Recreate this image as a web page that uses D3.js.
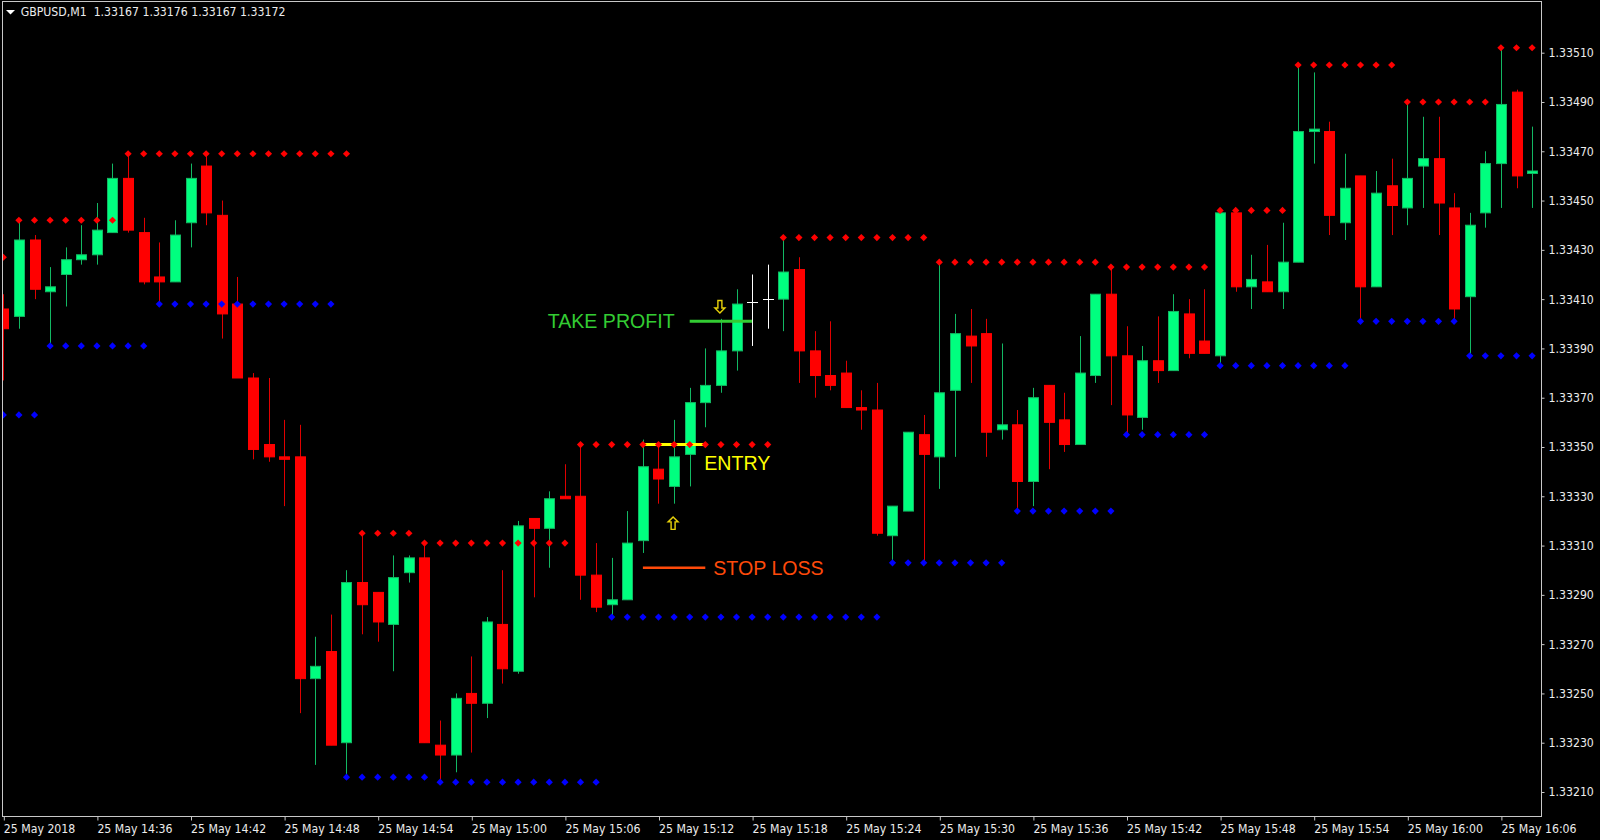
<!DOCTYPE html>
<html>
<head>
<meta charset="utf-8">
<script src="https://cdnjs.cloudflare.com/ajax/libs/d3/7.8.5/d3.min.js"></script>
<style>
  body { margin: 0; background: #000; }
  svg { display: block; background: #000; }
  .axis text { font-family: 'DejaVu Sans Condensed', 'Liberation Sans', sans-serif; font-size: 12.2px; fill: #ececec; }
  .axis line { stroke: #c8c8c8; }
  .note { font-family: 'Liberation Sans', Arial, sans-serif; font-size: 19.6px; }
</style>
</head>
<body>
<svg width="1600" height="840"></svg>
<script>
var svg = d3.select('svg');

var title = 'GBPUSD,M1  1.33167 1.33176 1.33167 1.33172';

// one bar per minute, 25 May 2018 14:30 -> 16:08
var opens = [1.33406, 1.33403, 1.33434, 1.33413, 1.33420, 1.33426, 1.33428, 1.33437, 1.33459, 1.33437,
  1.33419, 1.33417, 1.33441, 1.33464, 1.33444, 1.33408, 1.33378, 1.33351, 1.33346, 1.33346,
  1.33256, 1.33267, 1.33230, 1.33295, 1.33291, 1.33278, 1.33299, 1.33305, 1.33229, 1.33225,
  1.33250, 1.33246, 1.33278, 1.33259, 1.33321, 1.33317, 1.33330, 1.33330, 1.33298, 1.33286,
  1.33288, 1.33312, 1.33341, 1.33334, 1.33347, 1.33368, 1.33375, 1.33389, 1.33409, 1.33410,
  1.33410, 1.33422, 1.33389, 1.33379, 1.33380, 1.33366, 1.33365, 1.33314, 1.33324, 1.33355,
  1.33346, 1.33373, 1.33395, 1.33396, 1.33357, 1.33359, 1.33336, 1.33375, 1.33361, 1.33351,
  1.33379, 1.33412, 1.33387, 1.33362, 1.33385, 1.33381, 1.33404, 1.33393, 1.33387, 1.33445,
  1.33415, 1.33417, 1.33413, 1.33425, 1.33478, 1.33478, 1.33441, 1.33460, 1.33415, 1.33456,
  1.33447, 1.33464, 1.33467, 1.33447, 1.33411, 1.33445, 1.33465, 1.33494, 1.33461];

var highs = [1.33412, 1.33442, 1.33436, 1.33423, 1.33431, 1.33440, 1.33449, 1.33465, 1.33469, 1.33443,
  1.33433, 1.33442, 1.33465, 1.33469, 1.33450, 1.33419, 1.33380, 1.33378, 1.33361, 1.33359,
  1.33273, 1.33282, 1.33300, 1.33315, 1.33291, 1.33306, 1.33306, 1.33311, 1.33239, 1.33250,
  1.33265, 1.33281, 1.33300, 1.33320, 1.33321, 1.33332, 1.33343, 1.33351, 1.33311, 1.33305,
  1.33324, 1.33353, 1.33351, 1.33361, 1.33374, 1.33390, 1.33402, 1.33414, 1.33420, 1.33424,
  1.33435, 1.33427, 1.33397, 1.33401, 1.33385, 1.33373, 1.33376, 1.33326, 1.33356, 1.33363,
  1.33425, 1.33404, 1.33406, 1.33402, 1.33392, 1.33365, 1.33374, 1.33375, 1.33372, 1.33395,
  1.33412, 1.33423, 1.33399, 1.33391, 1.33403, 1.33412, 1.33410, 1.33414, 1.33446, 1.33445,
  1.33428, 1.33432, 1.33441, 1.33505, 1.33502, 1.33482, 1.33469, 1.33460, 1.33462, 1.33467,
  1.33490, 1.33484, 1.33484, 1.33453, 1.33445, 1.33470, 1.33512, 1.33495, 1.33480];

var lows = [1.33377, 1.33398, 1.33410, 1.33391, 1.33407, 1.33424, 1.33424, 1.33437, 1.33437, 1.33416,
  1.33408, 1.33417, 1.33431, 1.33440, 1.33394, 1.33378, 1.33345, 1.33344, 1.33326, 1.33242,
  1.33221, 1.33229, 1.33216, 1.33274, 1.33271, 1.33259, 1.33295, 1.33230, 1.33214, 1.33218,
  1.33226, 1.33240, 1.33254, 1.33258, 1.33289, 1.33301, 1.33329, 1.33288, 1.33283, 1.33281,
  1.33288, 1.33307, 1.33327, 1.33327, 1.33334, 1.33358, 1.33372, 1.33381, 1.33391, 1.33398,
  1.33397, 1.33376, 1.33370, 1.33373, 1.33366, 1.33357, 1.33314, 1.33303, 1.33324, 1.33303,
  1.33333, 1.33346, 1.33376, 1.33346, 1.33353, 1.33324, 1.33326, 1.33341, 1.33348, 1.33351,
  1.33376, 1.33367, 1.33355, 1.33357, 1.33376, 1.33381, 1.33386, 1.33388, 1.33383, 1.33413,
  1.33406, 1.33413, 1.33406, 1.33425, 1.33465, 1.33436, 1.33434, 1.33401, 1.33415, 1.33436,
  1.33440, 1.33447, 1.33436, 1.33401, 1.33387, 1.33439, 1.33447, 1.33455, 1.33447];

var closes = [1.33398, 1.33434, 1.33414, 1.33415, 1.33426, 1.33428, 1.33438, 1.33459, 1.33438, 1.33417,
  1.33417, 1.33436, 1.33459, 1.33445, 1.33404, 1.33378, 1.33349, 1.33346, 1.33345, 1.33256,
  1.33261, 1.33229, 1.33295, 1.33286, 1.33279, 1.33297, 1.33305, 1.33230, 1.33225, 1.33248,
  1.33246, 1.33279, 1.33260, 1.33318, 1.33317, 1.33329, 1.33329, 1.33298, 1.33285, 1.33288,
  1.33311, 1.33342, 1.33337, 1.33346, 1.33368, 1.33375, 1.33389, 1.33408, 1.33409, 1.33410,
  1.33421, 1.33389, 1.33379, 1.33375, 1.33366, 1.33365, 1.33315, 1.33326, 1.33356, 1.33347,
  1.33372, 1.33396, 1.33391, 1.33356, 1.33359, 1.33336, 1.33370, 1.33360, 1.33351, 1.33380,
  1.33412, 1.33387, 1.33363, 1.33385, 1.33381, 1.33405, 1.33388, 1.33388, 1.33445, 1.33415,
  1.33418, 1.33413, 1.33425, 1.33478, 1.33479, 1.33444, 1.33455, 1.33415, 1.33453, 1.33448,
  1.33459, 1.33467, 1.33449, 1.33406, 1.33440, 1.33465, 1.33489, 1.33460, 1.33462];

// dotted levels: [first bar, last bar, price]
var resistance = [[0, 0, 1.33427], [1, 7, 1.33442], [8, 22, 1.33469], [23, 26, 1.33315],
  [27, 36, 1.33311], [37, 49, 1.33351], [50, 59, 1.33435], [60, 70, 1.33425], [71, 77, 1.33423],
  [78, 82, 1.33446], [83, 89, 1.33505], [90, 95, 1.33490], [96, 98, 1.33512]];
var support = [[0, 2, 1.33363], [3, 9, 1.33391], [10, 21, 1.33408], [22, 27, 1.33216],
  [28, 38, 1.33214], [39, 56, 1.33281], [57, 64, 1.33303], [65, 71, 1.33324], [72, 77, 1.33355],
  [78, 86, 1.33383], [87, 93, 1.33401], [94, 98, 1.33387]];

var tradeLabels = ['TAKE PROFIT', 'ENTRY', 'STOP LOSS'];
var tradeFrom = [44, 41, 41];
var tradeTo = [48, 45, 45];
var tradePrices = [1.33401, 1.33351, 1.33301];

var arrowBars = [46, 43];
var arrowPrices = [1.33407, 1.33319];
var arrowDirs = ['down', 'up'];

var yTicks = [1.33210, 1.33230, 1.33250, 1.33270, 1.33290, 1.33310, 1.33330, 1.33350,
  1.33370, 1.33390, 1.33410, 1.33430, 1.33450, 1.33470, 1.33490, 1.33510];
var xTickBars = [0, 6, 12, 18, 24, 30, 36, 42, 48, 54, 60, 66, 72, 78, 84, 90, 96];
var xTickLabels = ['25 May 2018', '25 May 14:36', '25 May 14:42', '25 May 14:48', '25 May 14:54',
  '25 May 15:00', '25 May 15:06', '25 May 15:12', '25 May 15:18', '25 May 15:24', '25 May 15:30',
  '25 May 15:36', '25 May 15:42', '25 May 15:48', '25 May 15:54', '25 May 16:00', '25 May 16:06'];

var frame = {l: 2.5, t: 1.5, r: 1541.5, b: 816.5};

var bars = opens.map(function(o, i) {
  return {i: i, o: o, h: highs[i], l: lows[i], c: closes[i]};
});

var xScale = d3.scaleLinear()
  .domain([0, bars.length - 1])
  .range([3.3, 1532.1]);

var yScale = d3.scaleLinear()
  .domain([1.33210, 1.33510])
  .range([792, 52.7]);

var colors = {upBody: '#00ff7f', upLine: '#12b863', downBody: '#ff0000', downLine: '#e00000', doji: '#ffffff'};

svg.append('clipPath').attr('id', 'plot')
  .append('rect')
  .attr('x', frame.l).attr('y', frame.t)
  .attr('width', frame.r - frame.l).attr('height', frame.b - frame.t);

var chartG = svg.append('g').attr('clip-path', 'url(#plot)');

// candles
var candle = chartG.selectAll('g.bar')
  .data(bars)
  .enter()
  .append('g')
  .attr('class', 'bar');

candle.append('line')
  .attr('x1', function(d) { return Math.round(xScale(d.i)) + 0.5; })
  .attr('x2', function(d) { return Math.round(xScale(d.i)) + 0.5; })
  .attr('y1', function(d) { return yScale(d.h); })
  .attr('y2', function(d) { return yScale(d.l); })
  .attr('stroke', function(d) {
    if (d.c > d.o) return colors.upLine;
    if (d.c < d.o) return colors.downLine;
    return colors.doji;
  })
  .attr('stroke-width', 1);

candle.filter(function(d) { return d.c !== d.o; })
  .append('rect')
  .attr('x', function(d) { return Math.round(xScale(d.i)) - 4.5; })
  .attr('width', 10)
  .attr('y', function(d) { return yScale(Math.max(d.o, d.c)); })
  .attr('height', function(d) {
    return Math.max(1, yScale(Math.min(d.o, d.c)) - yScale(Math.max(d.o, d.c)));
  })
  .attr('fill', function(d) { return d.c > d.o ? colors.upBody : colors.downBody; })
  .attr('stroke', function(d) { return d.c > d.o ? colors.upLine : colors.downBody; })
  .attr('stroke-width', 1);

candle.filter(function(d) { return d.c === d.o; })
  .append('line')
  .attr('x1', function(d) { return Math.round(xScale(d.i)) - 5; })
  .attr('x2', function(d) { return Math.round(xScale(d.i)) + 6; })
  .attr('y1', function(d) { return Math.round(yScale(d.o)) + 0.5; })
  .attr('y2', function(d) { return Math.round(yScale(d.o)) + 0.5; })
  .attr('stroke', colors.doji);

// trade lines + labels
tradeLabels.forEach(function(label, k) {
  var y = yScale(tradePrices[k]);
  var x0 = xScale(tradeFrom[k]);
  var x1 = xScale(tradeTo[k]);
  var color = ['#33cc33', '#ffff00', '#ff4a0a'][k];
  chartG.append('line')
    .attr('x1', x0).attr('x2', x1)
    .attr('y1', y).attr('y2', y)
    .attr('stroke', color)
    .attr('stroke-width', k === 2 ? 2.5 : 3);

  var t = chartG.append('text')
    .attr('class', 'note')
    .attr('fill', color)
    .text(label);
  if (k === 0) {
    t.attr('x', x0 - 15).attr('y', y + 6.5).attr('text-anchor', 'end');
  } else if (k === 1) {
    t.attr('x', x1 - 1).attr('y', y + 25);
  } else {
    t.attr('x', x1 + 8).attr('y', y + 7);
  }
});

// dotted support / resistance levels
function levelDots(levels) {
  var pts = [];
  levels.forEach(function(lv) {
    d3.range(lv[0], lv[1] + 1).forEach(function(i) { pts.push([i, lv[2]]); });
  });
  return pts;
}

var diamond = 'M0,-3.6L3.6,0L0,3.6L-3.6,0Z';

chartG.selectAll('path.res')
  .data(levelDots(resistance))
  .enter()
  .append('path')
  .attr('class', 'res')
  .attr('d', diamond)
  .attr('transform', function(d) { return 'translate(' + [xScale(d[0]), yScale(d[1])] + ')'; })
  .attr('fill', '#ff0000');

chartG.selectAll('path.sup')
  .data(levelDots(support))
  .enter()
  .append('path')
  .attr('class', 'sup')
  .attr('d', diamond)
  .attr('transform', function(d) { return 'translate(' + [xScale(d[0]), yScale(d[1])] + ')'; })
  .attr('fill', '#0000ff');

// signal arrows
var upArrow = 'M0,-6.5L5,-1.5L2,-1.5L2,6L-2,6L-2,-1.5L-5,-1.5Z';
chartG.selectAll('path.arrow')
  .data(arrowBars)
  .enter()
  .append('path')
  .attr('class', 'arrow')
  .attr('d', upArrow)
  .attr('transform', function(d, k) {
    var rot = arrowDirs[k] === 'down' ? ' rotate(180)' : '';
    return 'translate(' + [xScale(d) - 1, yScale(arrowPrices[k])] + ')' + rot;
  })
  .attr('fill', 'none')
  .attr('stroke', '#e8d20a')
  .attr('stroke-width', 1.4);

// frame
svg.append('rect')
  .attr('x', frame.l).attr('y', frame.t)
  .attr('width', frame.r - frame.l).attr('height', frame.b - frame.t)
  .attr('fill', 'none')
  .attr('stroke', '#c8c8c8')
  .attr('stroke-width', 1);

var yAxis = d3.axisRight(yScale)
  .tickValues(yTicks)
  .tickSize(3)
  .tickPadding(4)
  .tickFormat(d3.format('.5f'));

svg.append('g')
  .attr('class', 'axis y-axis')
  .attr('transform', 'translate(' + frame.r + ',0)')
  .call(yAxis)
  .call(function(g) { g.select('.domain').remove(); });

var xAxis = d3.axisBottom(xScale)
  .tickValues(xTickBars)
  .tickSize(4)
  .tickPadding(3.5)
  .tickFormat(function(d, i) { return xTickLabels[i]; });

svg.append('g')
  .attr('class', 'axis x-axis')
  .attr('transform', 'translate(0,' + frame.b + ')')
  .call(xAxis)
  .call(function(g) {
    g.select('.domain').remove();
    g.selectAll('.tick line').attr('transform', 'translate(0.5,0)');
    g.selectAll('.tick text').attr('text-anchor', 'start').attr('x', 0);
  });

// title
svg.append('path')
  .attr('d', 'M6,10L15,10L10.5,14.5Z')
  .attr('fill', '#ffffff');

svg.append('text')
  .attr('x', 20.7)
  .attr('y', 15.7)
  .style('white-space', 'pre')
  .style('font-family', "'DejaVu Sans Condensed', 'Liberation Sans', sans-serif")
  .style('font-size', '12.2px')
  .style('fill', '#ececec')
  .text(title);
</script>
</body>
</html>
